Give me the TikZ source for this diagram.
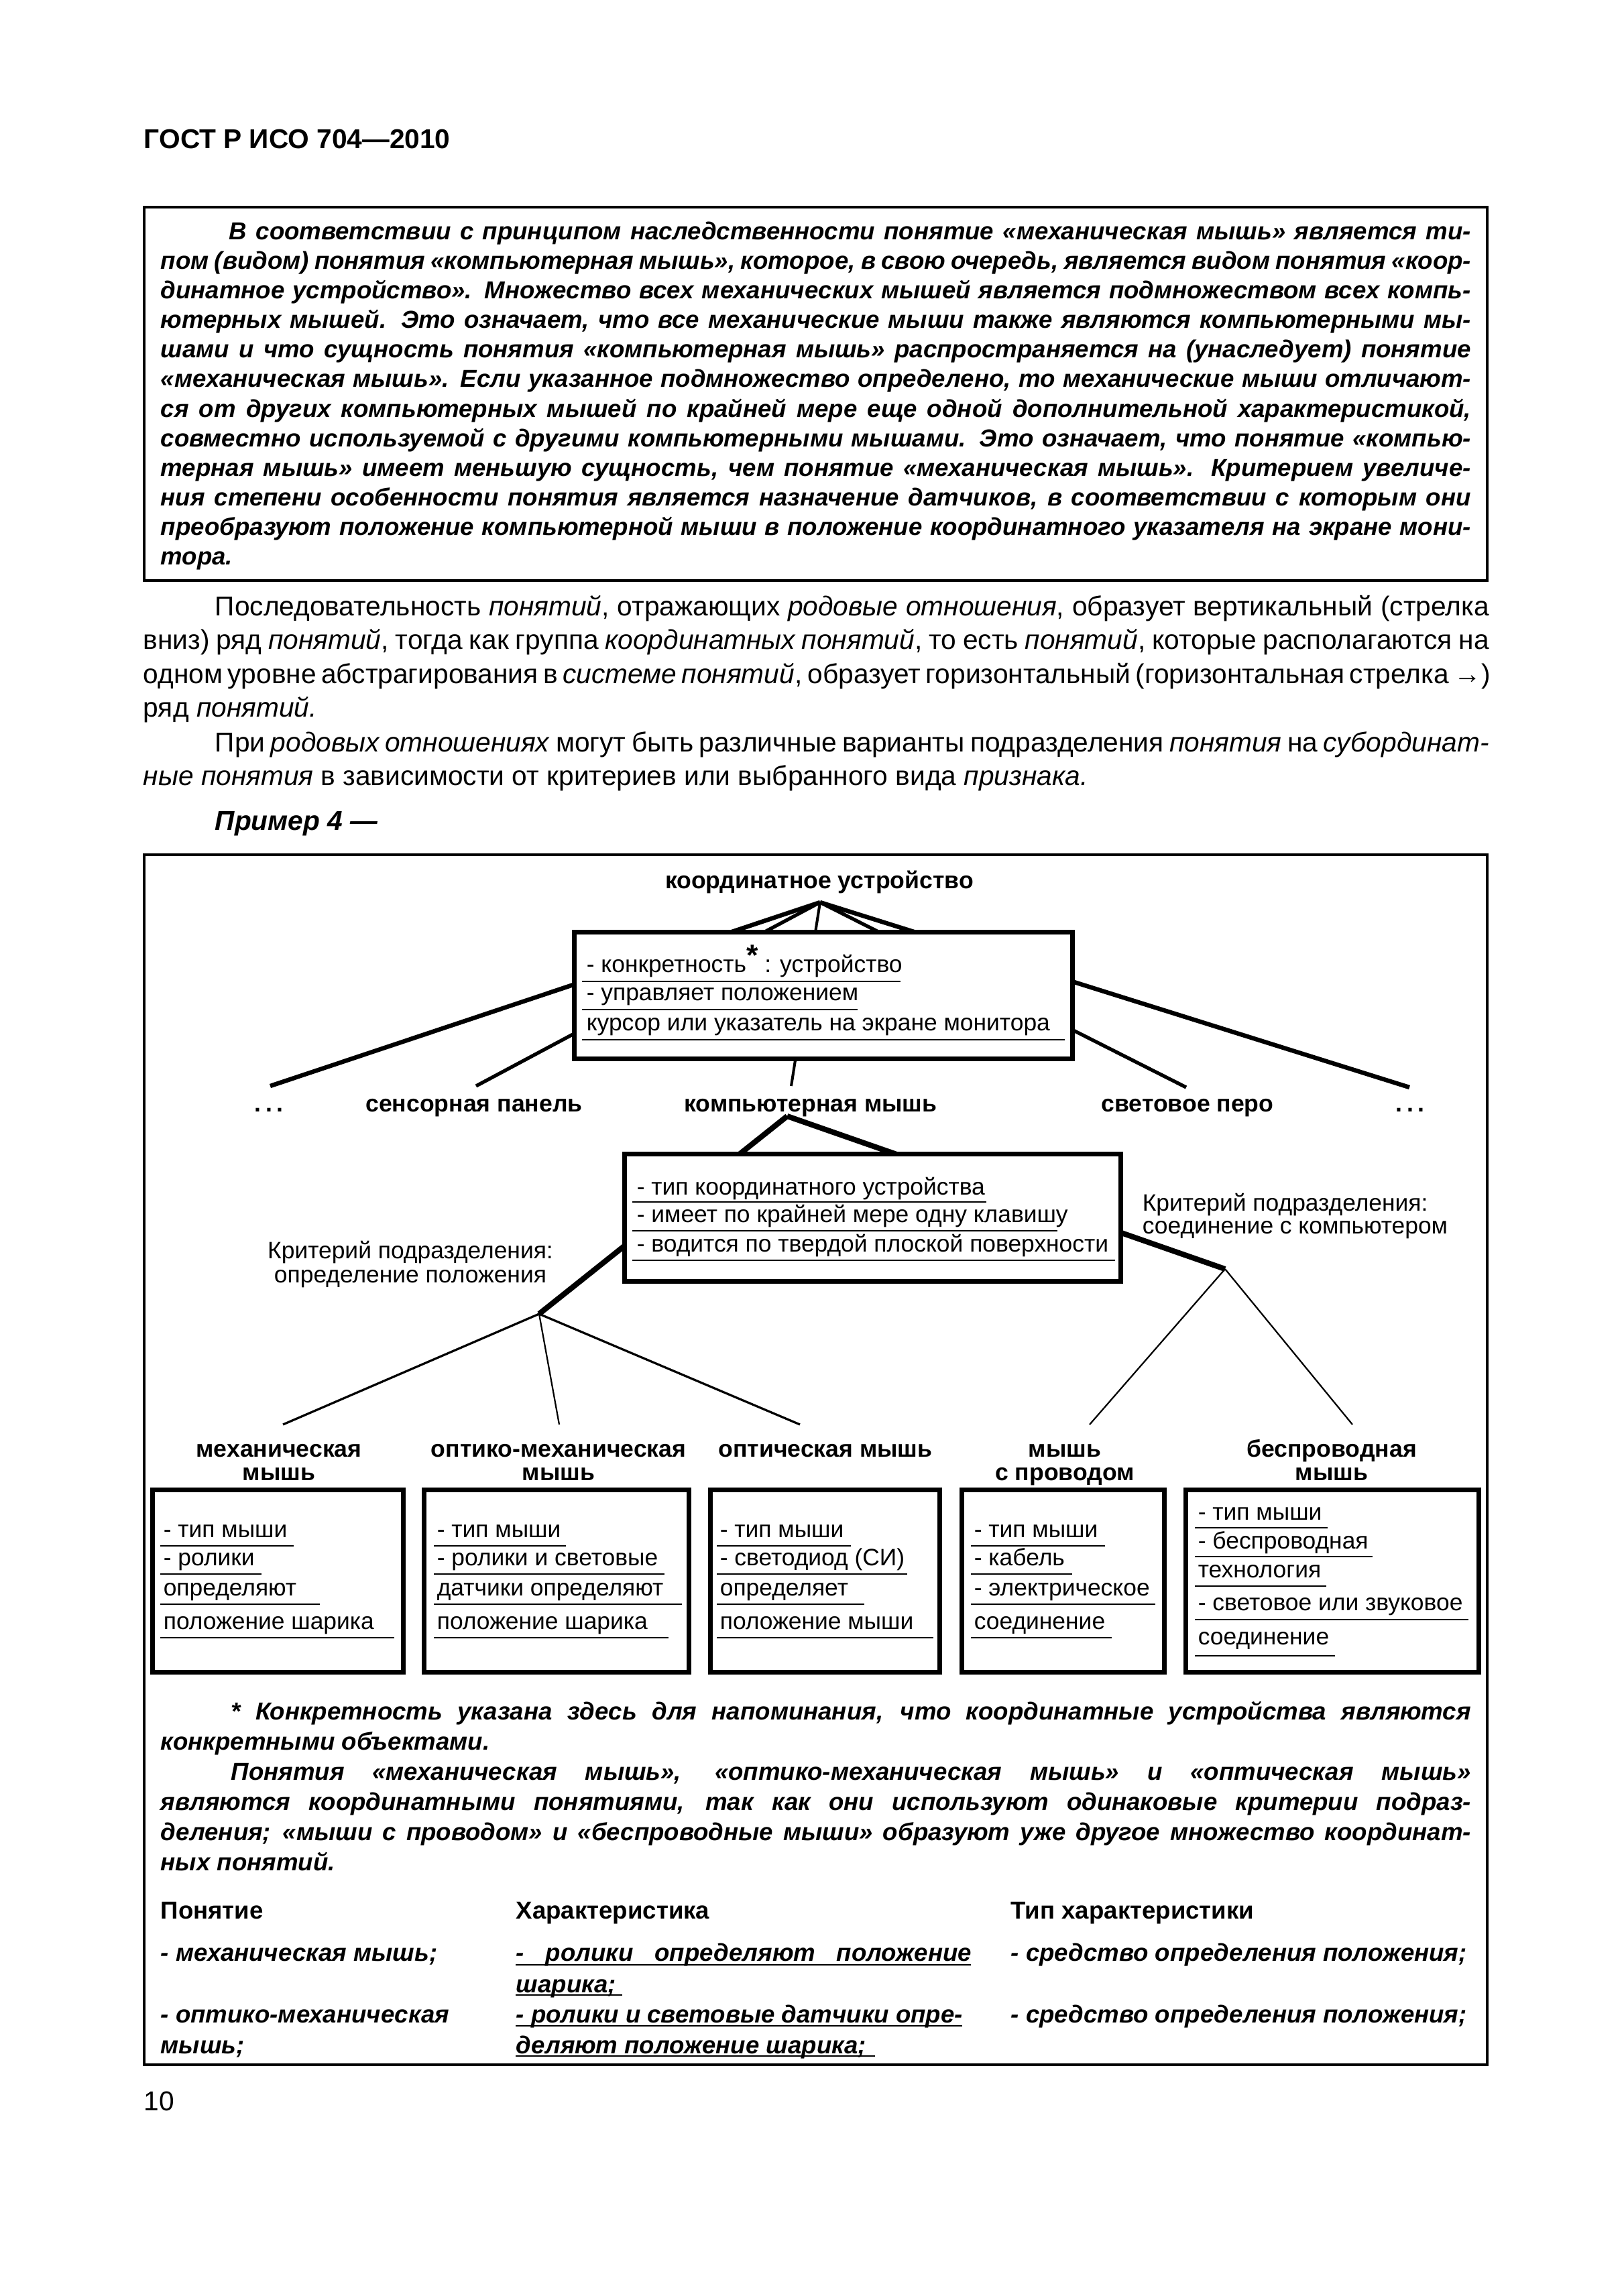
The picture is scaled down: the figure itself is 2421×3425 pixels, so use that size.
\documentclass[tikz,border=0pt]{standalone}
\usepackage{fontspec}
\setmainfont{Liberation Sans}
\usetikzlibrary{fit}
\newdimen\parW
\newdimen\parI
\newcommand\linJ[1]{\hbox to\parW{#1}}
\newcommand\linI[1]{\hbox to\parW{\hskip\parI #1}}
\newcommand\linL[1]{\hbox to\parW{#1\hfil}}
\newcommand\tridots{\hbox{.\kern1.6pt.\kern1.6pt.}}
\begin{document}
\begin{tikzpicture}[x=0.2458pt,y=-0.2458pt,
  frm/.style={draw,line width=0.9pt,inner sep=0pt},
  bx/.style={draw,line width=1.7pt,fill=white,inner sep=0pt},
  ul/.style={line width=0.7pt},
  hdr/.style={inner sep=0pt,anchor=base west,font=\fontsize{10}{12}\selectfont\bfseries},
  para/.style={inner sep=0pt,anchor=base west},
  dlab/.style={inner sep=0pt,anchor=mid,font=\fontsize{8.75}{10}\selectfont\bfseries},
  crit/.style={inner sep=0pt,font=\fontsize{8.7}{10}\selectfont},
  btxt/.style={inner sep=0pt,anchor=mid west,font=\fontsize{8.7}{10}\selectfont},
  thead/.style={inner sep=0pt,anchor=mid west,font=\fontsize{9}{10}\selectfont\bfseries},
  trow/.style={inner sep=0pt,anchor=mid west,font=\fontsize{9}{10}\selectfont\bfseries\itshape},
  lk1/.style={line width=1.6pt},
  lk2/.style={line width=1.3pt},
  lk3/.style={line width=1pt},
  lkb/.style={line width=2pt},
  lkt/.style={line width=0.8pt},
  lkn/.style={line width=0.55pt}]
\fill[white] (0,0) rectangle (2421,3425);
\useasboundingbox (0,0) rectangle (2421,3425);

% header
\node[hdr] (gost) at (214,222) {ГОСТ Р ИСО 704—2010};

% note box
\node[frm,fit={(215,309) (2218,866)}] (notebox) {};
\node[para,font=\fontsize{9}{10.84}\selectfont\bfseries\itshape] (notetext) at (239,357.5) {\parW=480.3pt \parI=25.1pt
\vtop{%
\linI{В соответствии с принципом наследственности понятие «механическая мышь» является ти-}
\linJ{пом (видом) понятия «компьютерная мышь», которое, в свою очередь, является видом понятия «коор-}
\linJ{динатное устройство». Множество всех механических мышей является подмножеством всех компь-}
\linJ{ютерных мышей. Это означает, что все механические мыши также являются компьютерными мы-}
\linJ{шами и что сущность понятия «компьютерная мышь» распространяется на (унаследует) понятие}
\linJ{«механическая мышь». Если указанное подмножество определено, то механические мыши отличают-}
\linJ{ся от других компьютерных мышей по крайней мере еще одной дополнительной характеристикой,}
\linJ{совместно используемой с другими компьютерными мышами. Это означает, что понятие «компью-}
\linJ{терная мышь» имеет меньшую сущность, чем понятие «механическая мышь». Критерием увеличе-}
\linJ{ния степени особенности понятия является назначение датчиков, в соответствии с которым они}
\linJ{преобразуют положение компьютерной мыши в положение координатного указателя на экране мони-}
\linL{тора.}}};

% body paragraphs
\node[para,font=\fontsize{10}{12.44}\selectfont] (body1) at (213,918) {\parW=493.3pt \parI=26.3pt
\vtop{%
\linI{Последовательность \textit{понятий}, отражающих \textit{родовые отношения}, образует вертикальный (стрелка}
\linJ{вниз) ряд \textit{понятий}, тогда как группа \textit{координатных понятий}, то есть \textit{понятий}, которые располагаются на}
\linJ{одном уровне абстрагирования в \textit{системе понятий}, образует горизонтальный (горизонтальная стрелка →)}
\linL{ряд \textit{понятий.}}}};
\node[para,font=\fontsize{10}{12.44}\selectfont] (body2) at (213,1121) {\parW=493.3pt \parI=26.3pt
\vtop{%
\linI{При \textit{родовых отношениях} могут быть различные варианты подразделения \textit{понятия} на \textit{субординат-}}
\linL{\textit{ные понятия} в зависимости от критериев или выбранного вида \textit{признака.}}}};
\node[inner sep=0pt,anchor=mid west,font=\fontsize{10}{12}\selectfont\bfseries\itshape] (example) at (320,1228) {Пример 4 —};

% diagram frame
\node[frm,fit={(215,1275) (2218,3080)}] (dframe) {};

% connectors (drawn before boxes so the boxes cover them)
\coordinate (apA) at (1223,1346);
\coordinate (eA1) at (403,1620);
\coordinate (eA2) at (710,1620);
\coordinate (eA3) at (1180,1620);
\coordinate (eA4) at (1769,1622);
\coordinate (eA5) at (2102,1622);
\draw[lk1] (apA) -- (eA1);
\draw[lk2] (apA) -- (eA2);
\draw[lk3] (apA) -- (eA3);
\draw[lk2] (apA) -- (eA4);
\draw[lk1] (apA) -- (eA5);
\coordinate (apB) at (1174,1665);
\coordinate (pP1) at (804,1960);
\coordinate (pP2) at (1827,1893);
\draw[lkb] (apB) -- (pP1);
\draw[lkb] (apB) -- (pP2);
\coordinate (eB1) at (422,2125);
\coordinate (eB2) at (834,2125);
\coordinate (eB3) at (1193,2125);
\coordinate (eB4) at (1625,2125);
\coordinate (eB5) at (2017,2125);
\draw[lkt] (pP1) -- (eB1);
\draw[lkn] (pP1) -- (eB2);
\draw[lkt] (pP1) -- (eB3);
\draw[lkn] (pP2) -- (eB4);
\draw[lkn] (pP2) -- (eB5);

% labels
\node[dlab] (kdev) at (1222,1315) {координатное устройство};
\node[dlab] (dotsL) at (401,1648) {\tridots};
\node[dlab] (touch) at (707,1648) {сенсорная панель};
\node[dlab] (cmouse) at (1209,1648) {компьютерная мышь};
\node[dlab] (lpen) at (1771,1648) {световое перо};
\node[dlab] (dotsR) at (2103,1648) {\tridots};

% box 1
\node[bx,fit={(856.5,1390.5) (1599.5,1579.5)}] (b1) {};
\node[btxt] (b1t1) at (874,1440) {- конкретность\raisebox{2.5pt}{\fontsize{11}{11}\selectfont\bfseries *} : устройство};
\node[btxt] (b1t2) at (874,1482) {- управляет положением};
\node[btxt] (b1t3) at (874,1527) {курсор или указатель на экране монитора};
\draw[ul] (868,1464) -- (1343,1464);
\draw[ul] (868,1506) -- (1279,1506);
\draw[ul] (868,1551) -- (1588,1551);

% box 2
\node[bx,fit={(931.5,1721.5) (1671.5,1911.5)}] (b2) {};
\node[btxt] (b2t1) at (949,1772) {- тип координатного устройства};
\node[btxt] (b2t2) at (949,1813) {- имеет по крайней мере одну клавишу};
\node[btxt] (b2t3) at (949,1857) {- водится по твердой плоской поверхности};
\draw[ul] (943,1793) -- (1471,1793);
\draw[ul] (943,1836) -- (1577,1836);
\draw[ul] (943,1880) -- (1663,1880);

% criteria
\node[crit,anchor=mid] (critL1) at (612,1867) {Критерий подразделения:};
\node[crit,anchor=mid] (critL2) at (612,1903) {определение положения};
\node[crit,anchor=mid west] (critR1) at (1703,1796) {Критерий подразделения:};
\node[crit,anchor=mid west] (critR2) at (1703,1830) {соединение с компьютером};

% bottom labels
\node[dlab] (mechA) at (416,2163) {механическая};
\node[dlab] (mechB) at (416,2198) {мышь};
\node[dlab] (omA) at (833,2163) {оптико-механическая};
\node[dlab] (omB) at (833,2198) {мышь};
\node[dlab] (opt) at (1231,2163) {оптическая мышь};
\node[dlab] (wirA) at (1588,2163) {мышь};
\node[dlab] (wirB) at (1588,2198) {с проводом};
\node[dlab] (wlA) at (1986,2163) {беспроводная};
\node[dlab] (wlB) at (1986,2198) {мышь};

% bottom boxes
\node[bx,fit={(227.5,2222.5) (601.5,2494.5)}] (bA) {};
\node[bx,fit={(632.5,2222.5) (1027.5,2494.5)}] (bB) {};
\node[bx,fit={(1059.5,2222.5) (1401.5,2494.5)}] (bC) {};
\node[bx,fit={(1434.5,2222.5) (1736.5,2494.5)}] (bD) {};
\node[bx,fit={(1768.5,2222.5) (2205.5,2494.5)}] (bE) {};

\node[btxt] (bA1) at (243,2283) {- тип мыши};
\node[btxt] (bA2) at (243,2325) {- ролики};
\node[btxt] (bA3) at (243,2370) {определяют};
\node[btxt] (bA4) at (243,2420) {положение шарика};
\draw[ul] (239,2306) -- (438,2306);
\draw[ul] (239,2348) -- (390,2348);
\draw[ul] (239,2393) -- (477,2393);
\draw[ul] (239,2443) -- (588,2443);

\node[btxt] (bB1) at (651,2283) {- тип мыши};
\node[btxt] (bB2) at (651,2325) {- ролики и световые};
\node[btxt] (bB3) at (651,2370) {датчики определяют};
\node[btxt] (bB4) at (651,2420) {положение шарика};
\draw[ul] (647,2306) -- (844,2306);
\draw[ul] (647,2348) -- (991,2348);
\draw[ul] (647,2393) -- (1017,2393);
\draw[ul] (647,2443) -- (997,2443);

\node[btxt] (bC1) at (1073,2283) {- тип мыши};
\node[btxt] (bC2) at (1073,2325) {- светодиод (СИ)};
\node[btxt] (bC3) at (1073,2370) {определяет};
\node[btxt] (bC4) at (1073,2420) {положение мыши};
\draw[ul] (1069,2306) -- (1269,2306);
\draw[ul] (1069,2348) -- (1353,2348);
\draw[ul] (1069,2393) -- (1289,2393);
\draw[ul] (1069,2443) -- (1392,2443);

\node[btxt] (bD1) at (1452,2283) {- тип мыши};
\node[btxt] (bD2) at (1452,2325) {- кабель};
\node[btxt] (bD3) at (1452,2370) {- электрическое};
\node[btxt] (bD4) at (1452,2420) {соединение};
\draw[ul] (1448,2306) -- (1648,2306);
\draw[ul] (1448,2348) -- (1599,2348);
\draw[ul] (1448,2393) -- (1723,2393);
\draw[ul] (1448,2443) -- (1658,2443);

\node[btxt] (bE1) at (1786,2257) {- тип мыши};
\node[btxt] (bE2) at (1786,2300) {- беспроводная};
\node[btxt] (bE3) at (1786,2343) {технология};
\node[btxt] (bE4) at (1786,2392) {- световое или звуковое};
\node[btxt] (bE5) at (1786,2443) {соединение};
\draw[ul] (1782,2279) -- (1980,2279);
\draw[ul] (1782,2322) -- (2047,2322);
\draw[ul] (1782,2366) -- (1978,2366);
\draw[ul] (1782,2416) -- (2190,2416);
\draw[ul] (1782,2470) -- (1991,2470);

% footnote
\node[para,font=\fontsize{9}{11.06}\selectfont\bfseries\itshape] (fnote) at (239,2565) {\parW=480.3pt \parI=25.8pt
\vtop{%
\linI{* Конкретность указана здесь для напоминания, что координатные устройства являются}
\linL{конкретными объектами.}
\linI{Понятия «механическая мышь», «оптико-механическая мышь» и «оптическая мышь»}
\linJ{являются координатными понятиями, так как они используют одинаковые критерии подраз-}
\linJ{деления; «мыши с проводом» и «беспроводные мыши» образуют уже другое множество координат-}
\linL{ных понятий.}}};

% table
\node[thead] (th1) at (239,2852) {Понятие};
\node[thead] (th2) at (769,2852) {Характеристика};
\node[thead] (th3) at (1507,2852) {Тип характеристики};
\node[trow] (r1c1) at (239,2915) {- механическая мышь;};
\node[trow] (r1c2) at (769,2915) {\hbox to 166.9pt{- ролики определяют положение}};
\node[trow] (r1c3) at (1507,2915) {- средство определения положения;};
\node[trow] (r1c2b) at (769,2962) {шарика;};
\node[trow] (r2c1) at (239,3007) {- оптико-механическая};
\node[trow] (r2c2) at (769,3007) {\hbox to 163.7pt{- ролики и световые датчики опре-}};
\node[trow] (r2c3) at (1507,3007) {- средство определения положения;};
\node[trow] (r2c1b) at (239,3053) {мышь;};
\node[trow] (r2c2b) at (769,3053) {деляют положение шарика;};
\draw[ul] (769,2931) -- (1448,2931);
\draw[ul] (769,2976) -- (928,2976);
\draw[ul] (769,3022) -- (1435,3022);
\draw[ul] (769,3067) -- (1305,3067);

% page number
\node[inner sep=0pt,anchor=base west,font=\fontsize{10}{12}\selectfont] (pnum) at (214,3148) {10};
\end{tikzpicture}
\end{document}
